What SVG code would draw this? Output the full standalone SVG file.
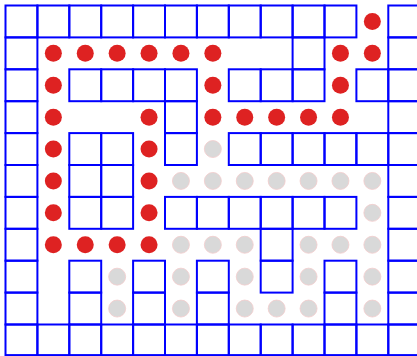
<svg xmlns="http://www.w3.org/2000/svg" xmlns:xlink="http://www.w3.org/1999/xlink" width="417" height="356" viewBox="0 0 417 356">
<style>
.w{fill:none;stroke:#0000ff;stroke-width:2}
.r{fill:#de2222}
.g{fill:#d9d9d9;stroke:#f2cccc;stroke-width:0.8}
</style>
<defs>
<rect id="w" width="31.9" height="31.9" class="w"/>
<rect id="wb" width="31.9" height="30.6" class="w"/>
<circle id="r" r="8.5" class="r"/>
<circle id="g" r="8.5" class="g"/>
</defs>
<rect width="417" height="356" fill="#ffffff"/>
<g id="walls">
<!-- row 0 -->
<use href="#w" x="5.5" y="5.5"/><use href="#w" x="37.4" y="5.5"/><use href="#w" x="69.3" y="5.5"/><use href="#w" x="101.2" y="5.5"/><use href="#w" x="133.1" y="5.5"/><use href="#w" x="165" y="5.5"/><use href="#w" x="196.9" y="5.5"/><use href="#w" x="228.8" y="5.5"/><use href="#w" x="260.7" y="5.5"/><use href="#w" x="292.6" y="5.5"/><use href="#w" x="324.5" y="5.5"/><use href="#w" x="388.3" y="5.5"/>
<!-- row 1 -->
<use href="#w" x="5.5" y="37.4"/><use href="#w" x="292.6" y="37.4"/><use href="#w" x="388.3" y="37.4"/>
<!-- row 2 -->
<use href="#w" x="5.5" y="69.3"/><use href="#w" x="69.3" y="69.3"/><use href="#w" x="101.2" y="69.3"/><use href="#w" x="133.1" y="69.3"/><use href="#w" x="165" y="69.3"/><use href="#w" x="228.8" y="69.3"/><use href="#w" x="260.7" y="69.3"/><use href="#w" x="292.6" y="69.3"/><use href="#w" x="356.4" y="69.3"/><use href="#w" x="388.3" y="69.3"/>
<!-- row 3 -->
<use href="#w" x="5.5" y="101.2"/><use href="#w" x="165" y="101.2"/><use href="#w" x="388.3" y="101.2"/>
<!-- row 4 -->
<use href="#w" x="5.5" y="133.1"/><use href="#w" x="69.3" y="133.1"/><use href="#w" x="101.2" y="133.1"/><use href="#w" x="165" y="133.1"/><use href="#w" x="228.8" y="133.1"/><use href="#w" x="260.7" y="133.1"/><use href="#w" x="292.6" y="133.1"/><use href="#w" x="324.5" y="133.1"/><use href="#w" x="356.4" y="133.1"/><use href="#w" x="388.3" y="133.1"/>
<!-- row 5 -->
<use href="#w" x="5.5" y="165"/><use href="#w" x="69.3" y="165"/><use href="#w" x="101.2" y="165"/><use href="#w" x="388.3" y="165"/>
<!-- row 6 -->
<use href="#w" x="5.5" y="196.9"/><use href="#w" x="69.3" y="196.9"/><use href="#w" x="101.2" y="196.9"/><use href="#w" x="165" y="196.9"/><use href="#w" x="196.9" y="196.9"/><use href="#w" x="228.8" y="196.9"/><use href="#w" x="260.7" y="196.9"/><use href="#w" x="292.6" y="196.9"/><use href="#w" x="324.5" y="196.9"/><use href="#w" x="388.3" y="196.9"/>
<!-- row 7 -->
<use href="#w" x="5.5" y="228.8"/><use href="#w" x="260.7" y="228.8"/><use href="#w" x="388.3" y="228.8"/>
<!-- row 8 -->
<use href="#w" x="5.5" y="260.7"/><use href="#w" x="69.3" y="260.7"/><use href="#w" x="133.1" y="260.7"/><use href="#w" x="196.9" y="260.7"/><use href="#w" x="260.7" y="260.7"/><use href="#w" x="324.5" y="260.7"/><use href="#w" x="388.3" y="260.7"/>
<!-- row 9 -->
<use href="#w" x="5.5" y="292.6"/><use href="#w" x="69.3" y="292.6"/><use href="#w" x="133.1" y="292.6"/><use href="#w" x="196.9" y="292.6"/><use href="#w" x="324.5" y="292.6"/><use href="#w" x="388.3" y="292.6"/>
<!-- row 10 -->
<use href="#wb" x="5.5" y="324.5"/><use href="#wb" x="37.4" y="324.5"/><use href="#wb" x="69.3" y="324.5"/><use href="#wb" x="101.2" y="324.5"/><use href="#wb" x="133.1" y="324.5"/><use href="#wb" x="165" y="324.5"/><use href="#wb" x="196.9" y="324.5"/><use href="#wb" x="228.8" y="324.5"/><use href="#wb" x="260.7" y="324.5"/><use href="#wb" x="292.6" y="324.5"/><use href="#wb" x="324.5" y="324.5"/><use href="#wb" x="356.4" y="324.5"/><use href="#wb" x="388.3" y="324.5"/>
</g>
<g id="visited">
<use href="#g" x="212.85" y="149.05"/>
<use href="#g" x="180.95" y="180.95"/><use href="#g" x="212.85" y="180.95"/><use href="#g" x="244.75" y="180.95"/><use href="#g" x="276.65" y="180.95"/><use href="#g" x="308.55" y="180.95"/><use href="#g" x="340.45" y="180.95"/><use href="#g" x="372.35" y="180.95"/>
<use href="#g" x="372.35" y="212.85"/>
<use href="#g" x="180.95" y="244.75"/><use href="#g" x="212.85" y="244.75"/><use href="#g" x="244.75" y="244.75"/><use href="#g" x="308.55" y="244.75"/><use href="#g" x="340.45" y="244.75"/><use href="#g" x="372.35" y="244.75"/>
<use href="#g" x="117.15" y="276.65"/><use href="#g" x="180.95" y="276.65"/><use href="#g" x="244.75" y="276.65"/><use href="#g" x="308.55" y="276.65"/><use href="#g" x="372.35" y="276.65"/>
<use href="#g" x="117.15" y="308.55"/><use href="#g" x="180.95" y="308.55"/><use href="#g" x="244.75" y="308.55"/><use href="#g" x="276.65" y="308.55"/><use href="#g" x="308.55" y="308.55"/><use href="#g" x="372.35" y="308.55"/>
</g>
<g id="path">
<use href="#r" x="372.35" y="21.45"/>
<use href="#r" x="53.35" y="53.35"/><use href="#r" x="85.25" y="53.35"/><use href="#r" x="117.15" y="53.35"/><use href="#r" x="149.05" y="53.35"/><use href="#r" x="180.95" y="53.35"/><use href="#r" x="212.85" y="53.35"/><use href="#r" x="340.45" y="53.35"/><use href="#r" x="372.35" y="53.35"/>
<use href="#r" x="53.35" y="85.25"/><use href="#r" x="212.85" y="85.25"/><use href="#r" x="340.45" y="85.25"/>
<use href="#r" x="53.35" y="117.15"/><use href="#r" x="149.05" y="117.15"/><use href="#r" x="212.85" y="117.15"/><use href="#r" x="244.75" y="117.15"/><use href="#r" x="276.65" y="117.15"/><use href="#r" x="308.55" y="117.15"/><use href="#r" x="340.45" y="117.15"/>
<use href="#r" x="53.35" y="149.05"/><use href="#r" x="149.05" y="149.05"/>
<use href="#r" x="53.35" y="180.95"/><use href="#r" x="149.05" y="180.95"/>
<use href="#r" x="53.35" y="212.85"/><use href="#r" x="149.05" y="212.85"/>
<use href="#r" x="53.35" y="244.75"/><use href="#r" x="85.25" y="244.75"/><use href="#r" x="117.15" y="244.75"/><use href="#r" x="149.05" y="244.75"/>
</g>
</svg>
